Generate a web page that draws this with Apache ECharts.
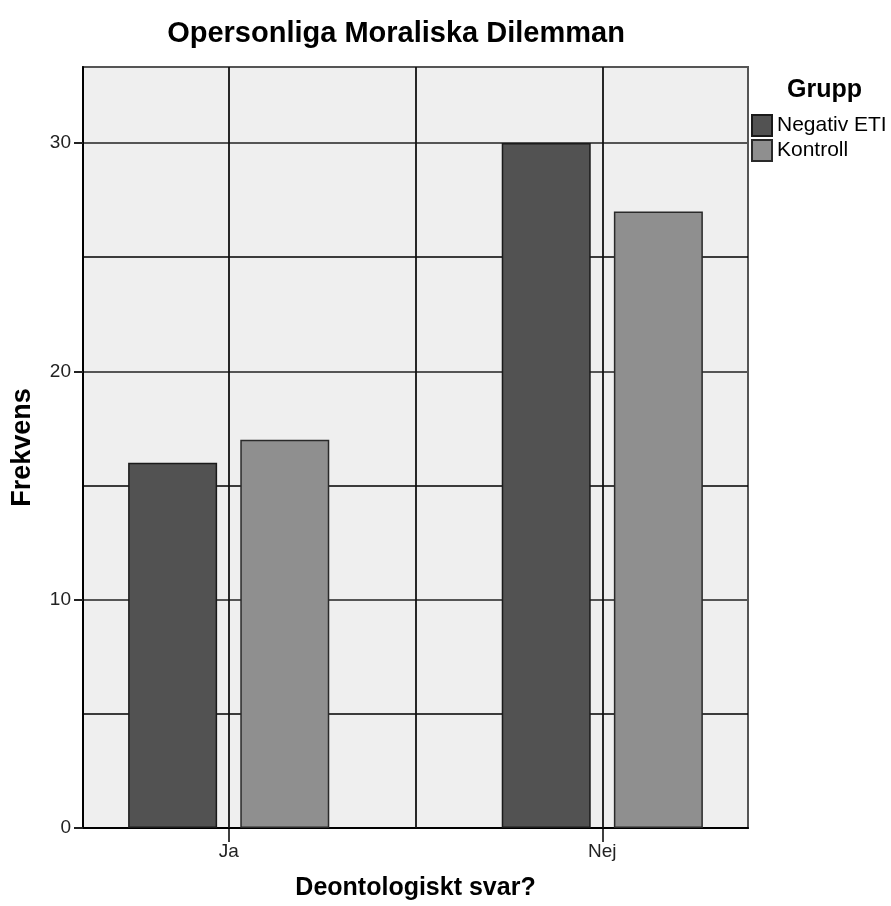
<!DOCTYPE html>
<html>
<head>
<meta charset="utf-8">
<script src="https://cdn.jsdelivr.net/npm/echarts@6/dist/echarts.min.js"></script>
<style>
  html, body { margin: 0; padding: 0; background: #fff; }
  #chart { width: 891px; height: 906px; }
</style>
</head>
<body>
<div id="chart"></div>
<script>
// categories on the x axis (placed at 1 and 2 on a value scale)
const categories = ['Ja', 'Nej'];
const groups = ['Negativ ETI', 'Kontroll'];
const negativEti = [16, 30];
const kontroll = [17, 27];
const yTicks = [0, 10, 20, 30];
// vertical grid lines: category centres and the boundary between them
const xGridLines = [1, 1.5, 2];

const toPoints = vals => vals.map((v, i) => [i + 1, v]);

const font = 'Liberation Sans, Arial, sans-serif';

const myChart = echarts.init(document.getElementById('chart'));

const options = {
  backgroundColor: '#fff',
  animation: false,
  title: [
    {
      text: 'Opersonliga Moraliska Dilemman',
      left: 391, top: 14, textAlign: 'center',
      textStyle: { fontFamily: font, fontSize: 29, fontWeight: 'bold', color: '#000' }
    },
    {
      text: 'Grupp',
      left: 782, top: 73,
      textStyle: { fontFamily: font, fontSize: 25, fontWeight: 'bold', color: '#000' }
    }
  ],
  legend: {
    orient: 'vertical',
    left: 751, top: 114,
    padding: 0,
    itemWidth: 20, itemHeight: 21, itemGap: 2,
    icon: 'rect',
    data: groups,
    textStyle: { fontFamily: font, fontSize: 21, color: '#000' }
  },
  grid: {
    left: 83, right: 143, top: 67, bottom: 78,
    show: true,
    backgroundColor: '#efefef',
    borderColor: '#555',
    borderWidth: 2
  },
  xAxis: {
    type: 'value',
    min: 0.61, max: 2.39,
    name: 'Deontologiskt svar?',
    nameLocation: 'middle',
    nameGap: 48,
    nameTextStyle: { fontFamily: font, fontSize: 25, fontWeight: 'bold', color: '#000' },
    axisLine: { show: true, lineStyle: { color: '#000', width: 2 } },
    axisTick: { show: true, customValues: [1, 2], length: 14, lineStyle: { color: '#000', width: 1.5 } },
    axisLabel: {
      customValues: [1, 2],
      formatter: v => categories[Math.round(v) - 1] || '',
      fontFamily: font, fontSize: 19, color: '#222', margin: 14
    },
    splitLine: { show: false }
  },
  yAxis: {
    type: 'value',
    min: 0, max: 33.33, interval: 10,
    name: 'Frekvens',
    nameLocation: 'middle',
    nameGap: 47,
    nameTextStyle: { fontFamily: font, fontSize: 27, fontWeight: 'bold', color: '#000' },
    axisLine: { show: true, lineStyle: { color: '#000', width: 2 } },
    axisTick: { show: true, customValues: yTicks, length: 9, lineStyle: { color: '#222', width: 2 } },
    axisLabel: {
      customValues: yTicks,
      fontFamily: font, fontSize: 19, color: '#222', margin: 12
    },
    splitLine: { show: true, lineStyle: { color: '#555', width: 2 } },
    minorTick: { show: false, splitNumber: 2 },
    minorSplitLine: { show: true, lineStyle: { color: '#000', width: 1.5 } }
  },
  series: [
    {
      name: groups[0],
      type: 'bar',
      data: toPoints(negativEti),
      barWidth: 89,
      barGap: '26%',
      itemStyle: { color: '#525252', borderColor: '#1a1a1a', borderWidth: 1.5 }
    },
    {
      name: groups[1],
      type: 'bar',
      data: toPoints(kontroll),
      barWidth: 89,
      barGap: '26%',
      itemStyle: { color: '#8f8f8f', borderColor: '#2a2a2a', borderWidth: 1.5 }
    },
    {
      name: 'grid',
      type: 'line',
      data: [],
      silent: true,
      markLine: {
        silent: true,
        symbol: 'none',
        label: { show: false },
        lineStyle: { color: '#111', width: 1.8, type: 'solid' },
        data: xGridLines.map(x => ({ xAxis: x }))
      }
    }
  ]
};

myChart.setOption(options);
window.addEventListener('resize', () => {
  myChart.resize();
});
</script>
</body>
</html>
